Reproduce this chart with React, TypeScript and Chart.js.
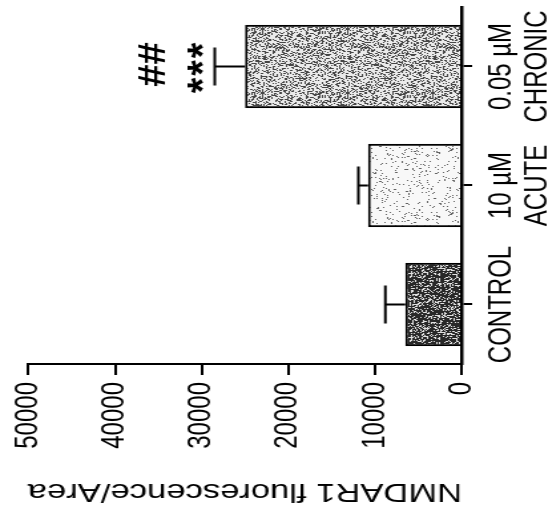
import React, { useEffect, useRef } from "react";
import { Chart, registerables } from "chart.js";

Chart.register(...registerables);

// ---- data ----
const categories: string[][] = [["CONTROL"], ["10 µM", "ACUTE"], ["0.05 µM", "CHRONIC"]];
const means: number[] = [6500, 10800, 25000];
const upperErrors: number[] = [2300, 1100, 3500];
const starMarks: string[] = ["", "", "***"];
const hashMarks: string[] = ["", "", "##"];
const yTickValues: number[] = [0, 10000, 20000, 30000, 40000, 50000];
const yTitle = "NMDAR1 fluorescence/Area";

// ---- styling ----
const FONT = "'Liberation Sans', Arial, Helvetica, sans-serif";
const STRETCH = 1.33; // figure is stretched along page x
const CW = 516;
const CH = 416;

function hash(x: number, y: number, s: number): number {
  let h = (Math.imul(x, 374761393) + Math.imul(y, 668265263) + Math.imul(s, 1442695041)) | 0;
  h = Math.imul(h ^ (h >>> 13), 1274126177);
  h = h ^ (h >>> 16);
  return (h >>> 0) / 4294967296;
}

function makePattern(p: number, dark: number, light: number, seed: number): CanvasPattern | string {
  const size = 64;
  const c = document.createElement("canvas");
  c.width = size;
  c.height = size;
  const g = c.getContext("2d");
  if (!g) return "#999";
  const img = g.createImageData(size, size);
  for (let y = 0; y < size; y++) {
    for (let x = 0; x < size; x++) {
      const r = hash(x, y, seed);
      const v = r < p ? dark : light;
      const i = (y * size + x) * 4;
      img.data[i] = v;
      img.data[i + 1] = v;
      img.data[i + 2] = v;
      img.data[i + 3] = 255;
    }
  }
  g.putImageData(img, 0, 0);
  const pat = g.createPattern(c, "repeat");
  return pat || "#999";
}

const errorBarPlugin = {
  id: "errorBarsAndMarks",
  afterDatasetsDraw(chart: any) {
    const ctx: CanvasRenderingContext2D = chart.ctx;
    const meta = chart.getDatasetMeta(0);
    const yScale = chart.scales.y;
    ctx.save();
    ctx.strokeStyle = "#000";
    ctx.fillStyle = "#000";
    ctx.lineWidth = 2;
    meta.data.forEach((bar: any, i: number) => {
      const x = bar.x;
      const yBase = yScale.getPixelForValue(means[i]);
      const yTop = yScale.getPixelForValue(means[i] + upperErrors[i]);
      ctx.beginPath();
      ctx.moveTo(x, yBase);
      ctx.lineTo(x, yTop);
      ctx.moveTo(x - 19, yTop);
      ctx.lineTo(x + 19, yTop);
      ctx.stroke();

      if (starMarks[i]) {
        const n = starMarks[i].length;
        const step = 17.5;
        for (let k = 0; k < n; k++) {
          const cx = x - 1.5 + (k - (n - 1) / 2) * step;
          const cy = yTop - 15;
          ctx.save();
          ctx.translate(cx, cy);
          ctx.scale(1, 0.8);
          ctx.font = `bold 40px ${FONT}`;
          ctx.textAlign = "center";
          ctx.textBaseline = "middle";
          ctx.fillText("*", 0, 10);
          ctx.restore();
        }
      }
      if (hashMarks[i]) {
        ctx.save();
        ctx.translate(x + 2, yTop - 46);
        ctx.scale(1, 0.75);
        ctx.font = `bold 40px ${FONT}`;
        ctx.textAlign = "center";
        ctx.textBaseline = "middle";
        ctx.fillText(hashMarks[i], 0, 0);
        ctx.restore();
      }
    });
    ctx.restore();
  },
};

export default function App() {
  const canvasRef = useRef<HTMLCanvasElement | null>(null);

  useEffect(() => {
    const canvas = canvasRef.current;
    if (!canvas) return;
    const patterns = [
      makePattern(0.72, 40, 225, 11),
      makePattern(0.07, 100, 248, 23),
      makePattern(0.36, 70, 235, 37),
    ];
    const chart = new Chart(canvas, {
      type: "bar",
      data: {
        labels: categories,
        datasets: [
          {
            data: means,
            backgroundColor: patterns as any,
            borderColor: "#000",
            borderWidth: 2,
            barPercentage: 0.7,
            categoryPercentage: 1,
          },
        ],
      },
      options: {
        responsive: false,
        animation: false,
        devicePixelRatio: 1,
        layout: { padding: { left: 0, right: 7, top: 18, bottom: 0 } },
        plugins: { legend: { display: false }, tooltip: { enabled: false } },
        scales: {
          x: {
            type: "category",
            offset: true,
            grid: {
              display: true,
              drawOnChartArea: false,
              offset: false,
              tickLength: 8,
              color: "#000",
              lineWidth: 2,
            },
            border: { display: true, color: "#000", width: 2.5 },
            ticks: {
              color: "#000",
              font: { family: FONT, size: 24, lineHeight: 1.16 },
              padding: 8,
              maxRotation: 0,
              minRotation: 0,
              autoSkip: false,
            },
            afterFit: (s: any) => {
              s.height = 69;
            },
          },
          y: {
            min: 0,
            max: 50000,
            afterBuildTicks: (s: any) => {
              s.ticks = yTickValues.map((v) => ({ value: v }));
            },
            ticks: {
              color: "#000",
              font: { family: FONT, size: 24 },
              padding: 7,
              callback: (v: any) => String(v),
            },
            grid: {
              drawOnChartArea: false,
              tickLength: 11,
              color: "#000",
              lineWidth: 2,
            },
            border: { display: true, color: "#000", width: 2 },
            title: {
              display: true,
              text: yTitle,
              color: "#000",
              font: { family: FONT, size: 26 },
              padding: { top: 9, bottom: 0 },
            },
            afterFit: (s: any) => {
              s.width = 152;
            },
          },
        },
      },
      plugins: [errorBarPlugin],
    });
    return () => chart.destroy();
  }, []);

  return (
    <div
      style={{
        position: "fixed",
        left: 0,
        top: 0,
        width: 553,
        height: 516,
        overflow: "hidden",
        background: "#fff",
      }}
    >
      <canvas
        ref={canvasRef}
        width={CW}
        height={CH}
        style={{
          position: "absolute",
          left: 0,
          top: 0,
          width: CW,
          height: CH,
          transformOrigin: "0 0",
          transform: `scale(${STRETCH}, 1) translate(0px, ${CW}px) rotate(-90deg)`,
        }}
      />
    </div>
  );
}
